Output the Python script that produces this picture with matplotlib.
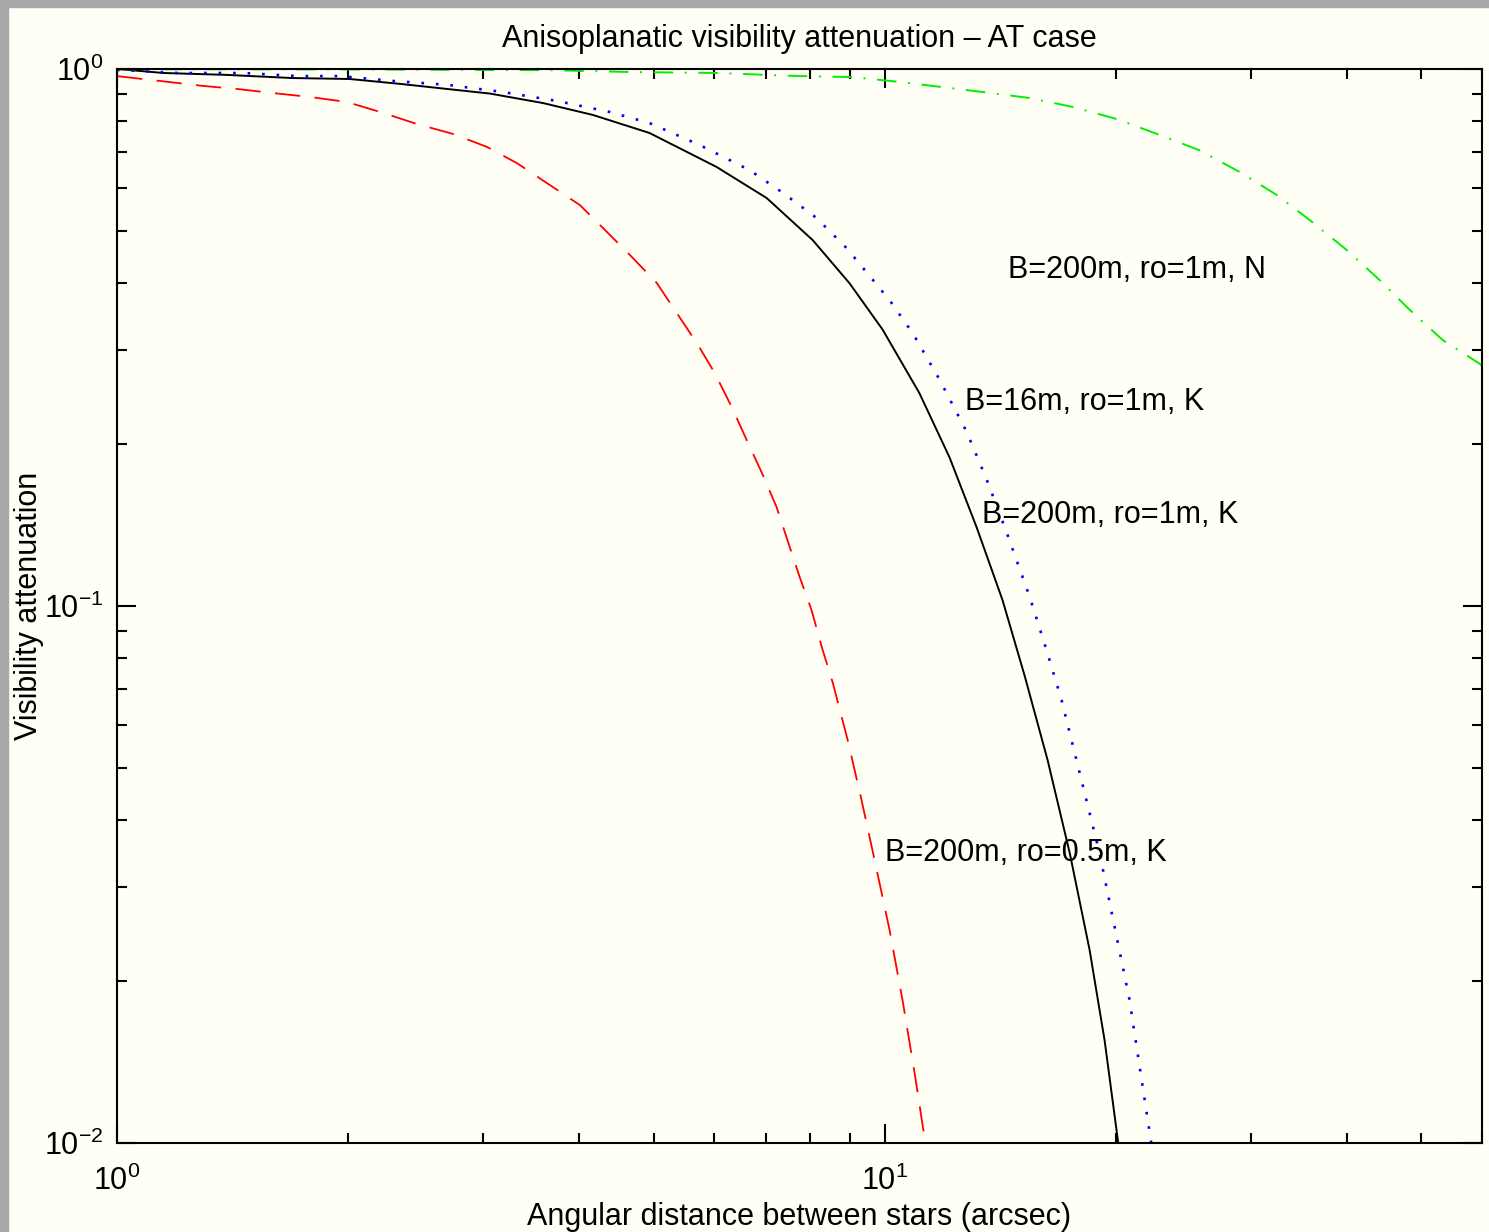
import numpy as np
import matplotlib.pyplot as plt
from matplotlib.ticker import LogLocator, NullFormatter
from matplotlib.patches import Rectangle

plt.rcParams['font.family'] = ['Liberation Sans', 'DejaVu Sans']
plt.rcParams['mathtext.fontset'] = 'custom'
plt.rcParams['mathtext.rm'] = 'Liberation Sans'

# curve values
# B=200m, ro=1m, K  (black solid)
x_k1 = [1.0, 1.15, 1.39, 1.69, 2.01, 2.34, 2.69, 3.06, 3.59, 4.17, 4.94, 6.04, 7.02,
        8.06, 9.0, 9.94, 11.1, 12.15, 13.18, 14.24, 15.22, 16.3, 17.42, 18.49, 19.34, 20.17]
y_k1 = [1.0, 0.983, 0.975, 0.962, 0.958, 0.938, 0.918, 0.900, 0.864, 0.821, 0.760, 0.657,
        0.575, 0.480, 0.399, 0.327, 0.249, 0.189, 0.140, 0.1026, 0.0741, 0.0517, 0.0347,
        0.0229, 0.01555, 0.0099]

# B=16m, ro=1m, K  (blue dotted)
x_16 = [1.0, 1.2, 1.46, 1.72, 1.95, 2.29, 2.7, 3.18, 3.74, 4.38, 4.94, 5.74, 6.67, 7.37,
        8.15, 8.92, 9.65, 10.15, 10.88, 11.79, 12.79, 13.58, 14.42, 15.45, 16.25, 17.0,
        19.05, 20.84, 22.27]
y_16 = [0.996, 0.983, 0.983, 0.970, 0.970, 0.950, 0.934, 0.906, 0.872, 0.832, 0.793, 0.722,
        0.648, 0.588, 0.528, 0.464, 0.405, 0.371, 0.322, 0.264, 0.211, 0.172, 0.137, 0.104,
        0.0828, 0.0668, 0.0347, 0.0185, 0.0099]

# B=200m, ro=0.5m, K  (red dashed)
x_05 = [1.0, 1.137, 1.294, 1.433, 1.596, 1.784, 1.993, 2.2, 2.458, 2.739, 3.033, 3.318,
        3.663, 4.008, 4.294, 4.684, 5.048, 5.36, 5.691, 6.006, 6.32, 6.61, 6.92, 7.23, 7.47,
        7.75, 8.03, 8.28, 8.56, 8.95, 9.33, 9.7, 10.15, 10.55, 10.94, 11.31]
y_05 = [0.970, 0.950, 0.930, 0.918, 0.902, 0.887, 0.868, 0.832, 0.790, 0.757, 0.716, 0.668,
        0.608, 0.558, 0.506, 0.4467, 0.3995, 0.3512, 0.309, 0.2716, 0.2348, 0.2038, 0.1769,
        0.1529, 0.1327, 0.1132, 0.0983, 0.0839, 0.0719, 0.0563, 0.0435, 0.0337, 0.0249,
        0.01846, 0.0135, 0.0099]

# B=200m, ro=1m, N  (green dash-dot)
x_n = [1.0, 2.0, 3.66, 4.7, 6.04, 7.75, 9.08, 10.46, 13.42, 15.45, 17.57, 20.05, 22.3,
       25.7, 29.0, 32.4, 35.8, 40.0, 44.1, 48.3, 53.3, 59.5, 60.0]
y_n = [0.999, 0.998, 0.995, 0.987, 0.983, 0.970, 0.966, 0.946, 0.906, 0.883, 0.850, 0.807,
       0.763, 0.706, 0.643, 0.583, 0.523, 0.460, 0.405, 0.356, 0.313, 0.283, 0.280]

labels = ['B=200m, ro=1m, N', 'B=16m, ro=1m, K', 'B=200m, ro=1m, K', 'B=200m, ro=0.5m, K']
label_x = [14.46, 12.71, 13.38, 10.0]
label_y = [0.422, 0.240, 0.1477, 0.0347]

bg = '#fffff6'
fs = 22
fig = plt.figure(figsize=(14.89, 12.32), dpi=100, facecolor=bg)
# grey frame of the screenshot
fig.patches.append(Rectangle((0, 0.9945), 1, 0.0055, transform=fig.transFigure,
                             color='#a8a8a8', zorder=0))
fig.patches.append(Rectangle((0, 0), 0.0055, 1, transform=fig.transFigure,
                             color='#a8a8a8', zorder=0))

ax = fig.add_axes([0.0786, 0.0722, 0.9167, 0.8718])
ax.set_facecolor(bg)

ax.plot(x_k1, y_k1, color='black', lw=1.4)
ax.plot(x_16, y_16, color='blue', lw=1.9, linestyle=(0, (1, 4.5)))
ax.plot(x_05, y_05, color='red', lw=1.3, linestyle=(0, (14, 8)))
ax.plot(x_n, y_n, color='#00ee00', lw=1.4, linestyle=(0, (10, 6, 1, 6)))

for t, lx, ly in zip(labels, label_x, label_y):
    ax.text(lx, ly, t, fontsize=fs, va='center', ha='left')

ax.set_xscale('log')
ax.set_yscale('log')
ax.set_xlim(1, 60)
ax.set_ylim(0.01, 1)

ax.xaxis.set_major_locator(LogLocator(base=10))
ax.xaxis.set_minor_locator(LogLocator(base=10, subs=np.arange(2, 10)))
ax.xaxis.set_minor_formatter(NullFormatter())
ax.yaxis.set_minor_formatter(NullFormatter())

ax.tick_params(which='both', direction='in', top=True, right=True, width=1.5, labelsize=fs)
ax.tick_params(which='major', length=14, pad=10)
ax.tick_params(which='minor', length=7)
ax.tick_params(axis='x', which='major', pad=16)
for s in ax.spines.values():
    s.set_linewidth(1.5)

ax.set_title('Anisoplanatic visibility attenuation \u2013 AT case', fontsize=fs, pad=16)
ax.set_xlabel('Angular distance between stars (arcsec)', fontsize=fs, labelpad=4)
ax.set_ylabel('Visibility attenuation', fontsize=fs, labelpad=0)

fig.savefig('out.png', dpi=100, facecolor=bg)
